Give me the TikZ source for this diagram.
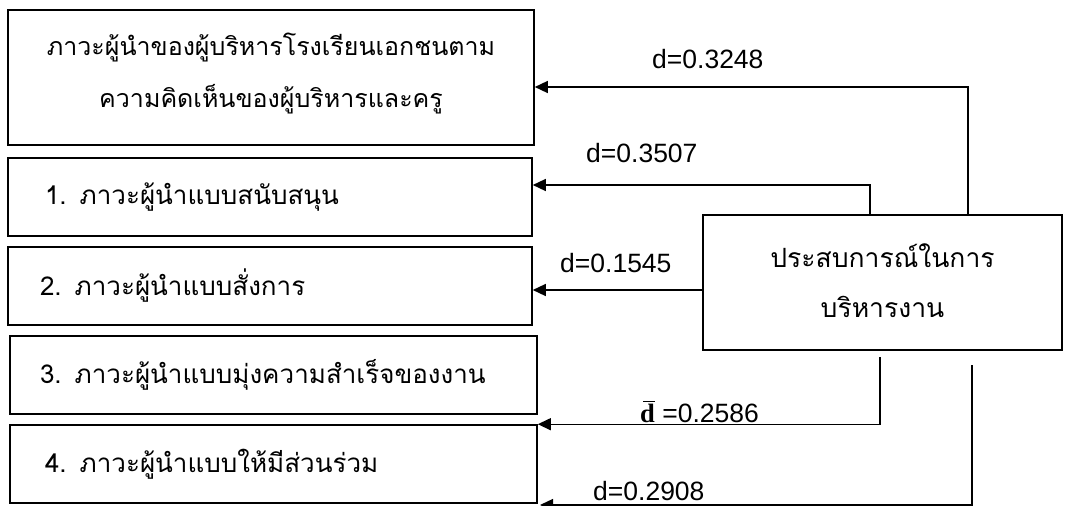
\documentclass[tikz,border=0pt]{standalone}
\usepackage{fontspec}
\setmainfont{Loma}[Script=Thai]
\newfontfamily\latinfont{Liberation Sans}
\newfontfamily\seriffont{Liberation Serif}
\usetikzlibrary{arrows.meta,calc}
\begin{document}
\begin{tikzpicture}[x=1pt,y=-1pt,
  box/.style={draw,line width=1.6pt,rectangle,inner sep=0pt},
  arr/.style={line width=1.4pt,-{Triangle[length=13pt,width=12pt]}},
  lbl/.style={font=\latinfont\fontsize{26.5}{28}\selectfont,inner sep=0pt,anchor=west},
  thai/.style={font=\fontsize{26}{52}\selectfont,inner sep=0pt}]
\useasboundingbox (0,0) rectangle (1082,506);
\fill[white] (0,0) rectangle (1082,506);
% boxes
\node[box,minimum width=526,minimum height=135] (top) at (271,77.5) {};
\node[thai,align=center,font=\fontsize{25}{52}\selectfont] (toptext) at ($(top.center)+(0,-4)$)
  {ภาวะผู้นำของผู้บริหารโรงเรียนเอกชนตาม\\ความคิดเห็นของผู้บริหารและครู};
\node[box,thai,minimum width=524,minimum height=78,text width=450,align=left] (b1) at (270,197)
  {1. ภาวะผู้นำแบบสนับสนุน};
\node[box,thai,minimum width=524,minimum height=78,text width=460,align=left] (b2) at (270,286)
  {2. ภาวะผู้นำแบบสั่งการ};
\node[box,thai,minimum width=527,minimum height=78,text width=467,align=left] (b3) at (273.5,375)
  {3. ภาวะผู้นำแบบมุ่งความสำเร็จของงาน};
\node[box,thai,minimum width=527,minimum height=78,text width=457,align=left] (b4) at (273.5,464)
  {4. ภาวะผู้นำแบบให้มีส่วนร่วม};
\node[box,minimum width=359,minimum height=135] (main) at (882.5,282.5) {};
\node[thai,align=center,font=\fontsize{26.5}{50}\selectfont] (maintext) at ($(main.center)+(0,-2)$)
  {ประสบการณ์ในการ\\บริหารงาน};
% connector points
\coordinate (c1) at (968,87);
\coordinate (c2) at (870,185);
\coordinate (c3) at (703,290);
\coordinate (s4) at (880,357);
\coordinate (s5) at (972,365);
\coordinate (e5) at (540,505);
% connectors
\draw[arr] (main.north -| c1) |- (top.east |- c1);
\draw[arr] (main.north -| c2) |- (b1.east |- c2);
\draw[arr] (main.west |- c3) -- (b2.east |- c3);
\draw[arr] (s4) |- (b4.north east);
\draw[arr] (s5) |- (e5);
% labels
\node[lbl] (l1) at (652,59) {d=0.3248};
\node[lbl] (l2) at (586,153) {d=0.3507};
\node[lbl] (l3) at (560,263) {d=0.1545};
\node[lbl] (l4) at (640,412) {{\seriffont\bfseries d}\llap{\raisebox{0.78em}{\rule{0.45em}{1.2pt}}} =0.2586};
\node[lbl] (l5) at (593,491) {d=0.2908};
\end{tikzpicture}
\end{document}
